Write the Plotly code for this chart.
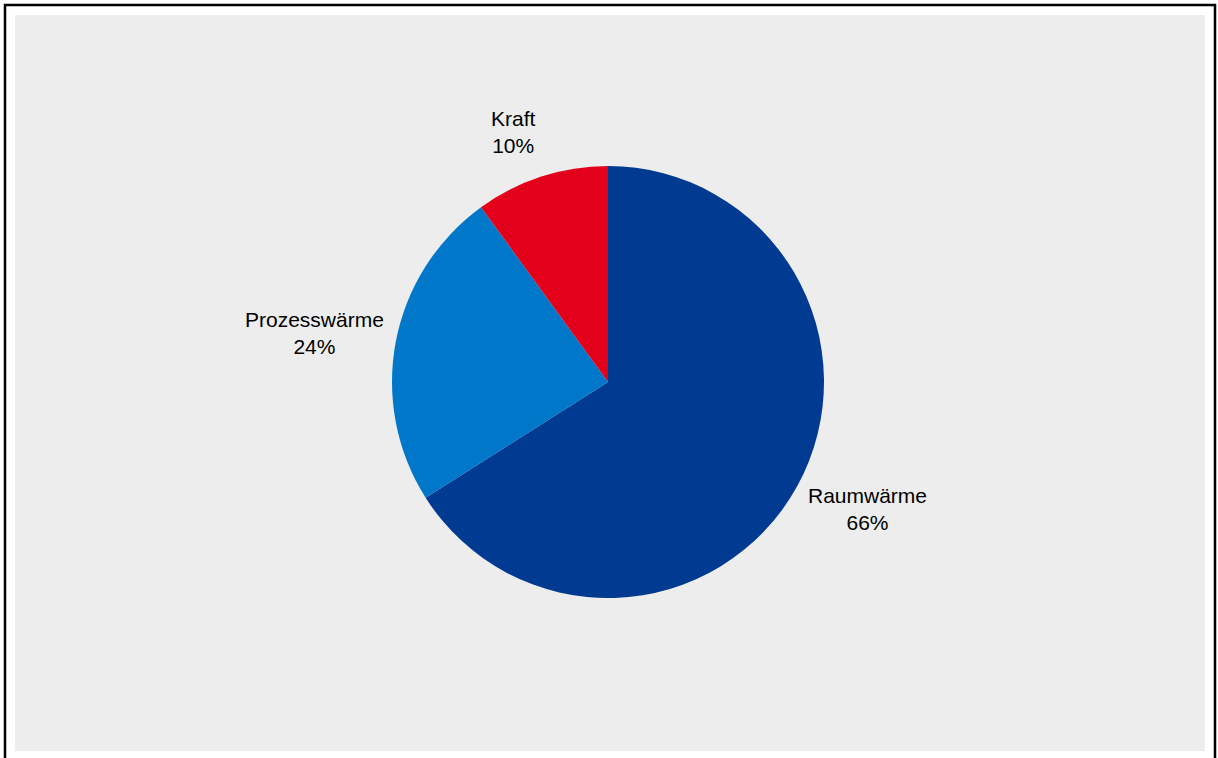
import math
import plotly.graph_objects as go

categories = ["Raumwärme", "Prozesswärme", "Kraft"]
values = [66, 24, 10]
colors = ["#003A91", "#0077C8", "#E2001A"]

W, H = 1218, 758
cx, cy, r = 608, 382, 216
gap_x = 10          # horizontal label offset outside the pie edge (px)
gap_y = 47          # vertical label-centre offset outside the pie edge (px)
fs = 21
font = dict(family="Liberation Sans, Arial, sans-serif", size=fs, color="#000000")

fig = go.Figure(go.Pie(
    labels=categories,
    values=values,
    sort=False,
    direction="clockwise",
    rotation=0,
    marker=dict(colors=colors, line=dict(width=0)),
    textinfo="none",
    showlegend=False,
    hoverinfo="label+percent",
    domain=dict(x=[(cx - r) / W, (cx + r) / W], y=[(H - cy - r) / H, (H - cy + r) / H]),
))

# outside labels placed from the slice mid-angles
total = sum(values)
annotations = []
cum = 0
for name, v in zip(categories, values):
    mid = (cum + v / 2) / total * 2 * math.pi
    cum += v
    s, c = math.sin(mid), math.cos(mid)
    px = cx + (r + gap_x) * s
    py = cy - (r + gap_y) * c
    annotations.append(dict(
        x=px / W, y=(H - py) / H, xref="paper", yref="paper",
        text=f"{name}<br>{v}%", showarrow=False, font=font, align="center",
        xanchor="right" if s < 0 else "left", yanchor="middle",
    ))

fig.update_layout(
    width=W, height=H,
    margin=dict(l=0, r=0, t=0, b=0),
    paper_bgcolor="#FFFFFF",
    plot_bgcolor="#FFFFFF",
    annotations=annotations,
    shapes=[
        dict(type="rect", xref="paper", yref="paper",
             x0=15 / W, x1=1205 / W, y0=(H - 751) / H, y1=(H - 15) / H,
             fillcolor="#EDEDED", line=dict(width=0), layer="below"),
        dict(type="rect", xref="paper", yref="paper",
             x0=5 / W, x1=1215 / W, y0=-0.05, y1=(H - 5) / H,
             fillcolor="rgba(0,0,0,0)", line=dict(color="#000000", width=2.5), layer="below"),
    ],
)

fig.write_html("out.html")
